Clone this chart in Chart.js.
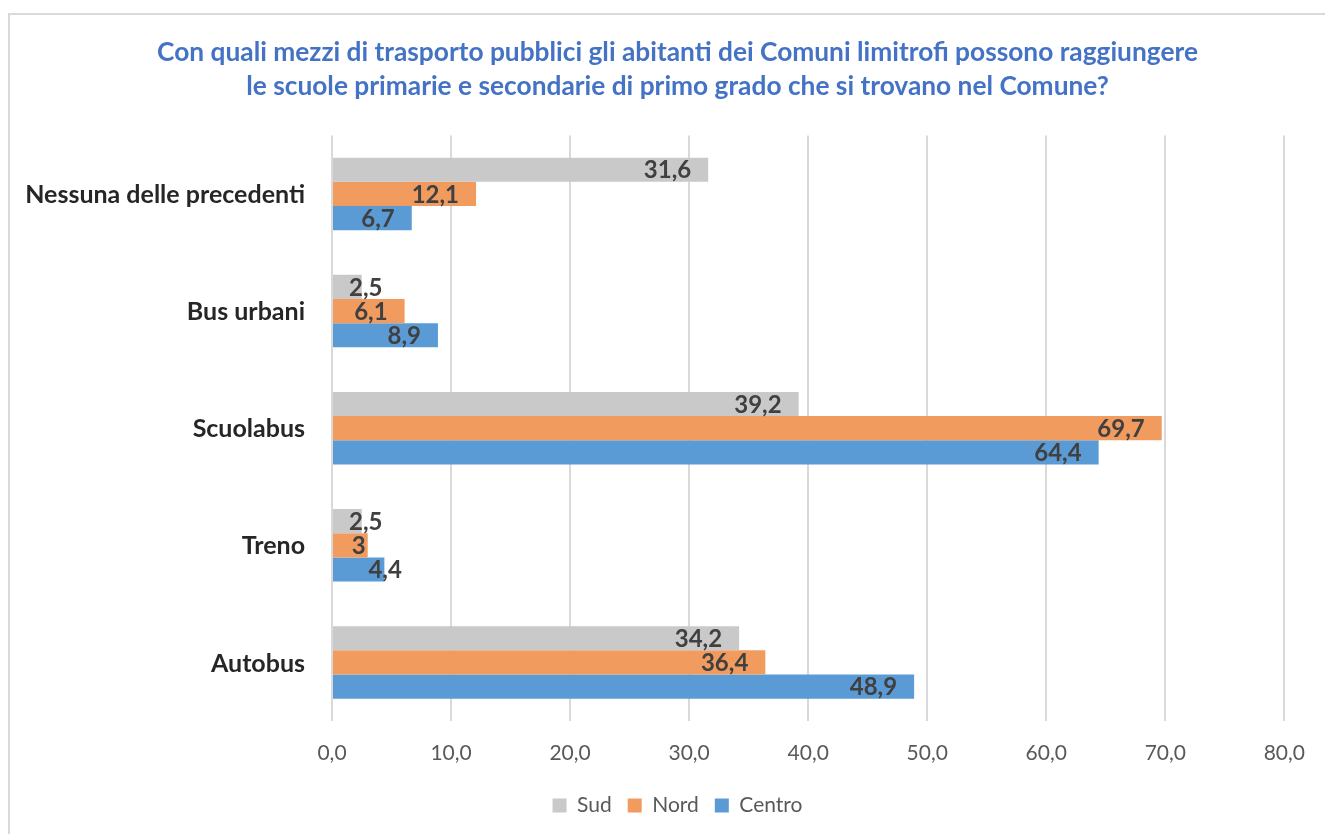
<!DOCTYPE html>
<html>
<head>
<meta charset="utf-8">
<script src="https://cdn.jsdelivr.net/npm/chart.js@4"></script>
<style>
  body { margin:0; background:#fff; }
  #wrap { position:relative; width:1325px; height:834px; overflow:hidden; }
  #frame { position:absolute; left:8px; top:13px; width:1330px; height:840px; border:2px solid #d9d9d9; box-sizing:border-box; }
  canvas { position:absolute; left:0; top:0; }
</style>
</head>
<body>
<div id="wrap">
  <div id="frame"></div>
  <canvas id="chart" width="1325" height="834"></canvas>
</div>
<script>
// data
const categories = ["Nessuna delle precedenti","Bus urbani","Scuolabus","Treno","Autobus"];
const sud    = [31.6, 2.5, 39.2, 2.5, 34.2];
const nord   = [12.1, 6.1, 69.7, 3, 36.4];
const centro = [6.7, 8.9, 64.4, 4.4, 48.9];
const seriesNames = ["Sud","Nord","Centro"];
const colors = ["#c9c9c9","#f19b5f","#5b9bd5"];

const FONT = "Lato, 'Open Sans', sans-serif";

function fmt(v){
  return String(v).replace(".", ",");
}

// labels at the inside end of each bar
const barLabels = {
  id: "barLabels",
  afterDatasetsDraw(chart){
    const ctx = chart.ctx;
    ctx.save();
    ctx.font = "bold 24px " + FONT;
    ctx.fillStyle = "#404040";
    ctx.textBaseline = "middle";
    ctx.textAlign = "left";
    chart.data.datasets.forEach((ds, di) => {
      chart.getDatasetMeta(di).data.forEach((bar, i) => {
        let txt = fmt(ds.data[i]);
        let w = ctx.measureText(txt).width;
        let left = bar.x - 17 - w;
        if(left < bar.base + 14) left = Math.max(bar.base + 16, bar.x - 16);
        ctx.fillText(txt, left, bar.y + 1);
      });
    });
    ctx.restore();
  }
};

// category names, drawn by hand so they are not clipped to the axis box
const catLabels = {
  id: "catLabels",
  afterDraw(chart){
    const ctx = chart.ctx, y = chart.scales.y;
    ctx.save();
    ctx.font = "bold 25px " + FONT;
    ctx.fillStyle = "#262626";
    ctx.textAlign = "right";
    ctx.textBaseline = "middle";
    categories.forEach((c, i) => {
      ctx.fillText(c, y.right - 27, y.getPixelForValue(i) + 1);
    });
    ctx.restore();
  }
};

new Chart(document.getElementById("chart"), {
  type: "bar",
  data: {
    labels: categories,
    datasets: [
      {label: seriesNames[0], data: sud, backgroundColor: colors[0]},
      {label: seriesNames[1], data: nord, backgroundColor: colors[1]},
      {label: seriesNames[2], data: centro, backgroundColor: colors[2]}
    ]
  },
  options: {
    indexAxis: "y",
    responsive: false,
    animation: false,
    datasets: {
      bar: { categoryPercentage: 0.62, barPercentage: 1, borderWidth: 0 }
    },
    layout: { padding: { left: 66, right: 36, top: 0, bottom: 8 } },
    scales: {
      x: {
        min: 0, max: 80,
        ticks: {
          stepSize: 10,
          color: "#595959",
          font: { family: FONT, size: 21 },
          padding: 20,
          callback: v => v.toFixed(1).replace(".", ",")
        },
        grid: { color: "#d9d9d9", lineWidth: 2, drawTicks: false },
        border: { display: false },
        afterFit(scale){ scale.height = 58; }
      },
      y: {
        ticks: { display: false },
        grid: { display: false, drawTicks: false },
        border: { display: false },
        afterFit(scale){ scale.width = 266; }
      }
    },
    plugins: {
      title: {
        display: true,
        text: ["Con quali mezzi di trasporto pubblici gli abitanti dei Comuni limitrofi possono raggiungere",
               "le scuole primarie e secondarie di primo grado che si trovano nel Comune?"],
        color: "#4472c4",
        font: { family: FONT, size: 26.3, weight: "bold", lineHeight: 1.3 },
        padding: { top: 35, bottom: 32 }
      },
      legend: {
        position: "bottom",
        labels: {
          color: "#595959",
          font: { family: FONT, size: 21 },
          boxWidth: 14,
          boxHeight: 14,
          padding: 16
        }
      },
      tooltip: { enabled: false }
    }
  },
  plugins: [barLabels, catLabels]
});
</script>
</body>
</html>
